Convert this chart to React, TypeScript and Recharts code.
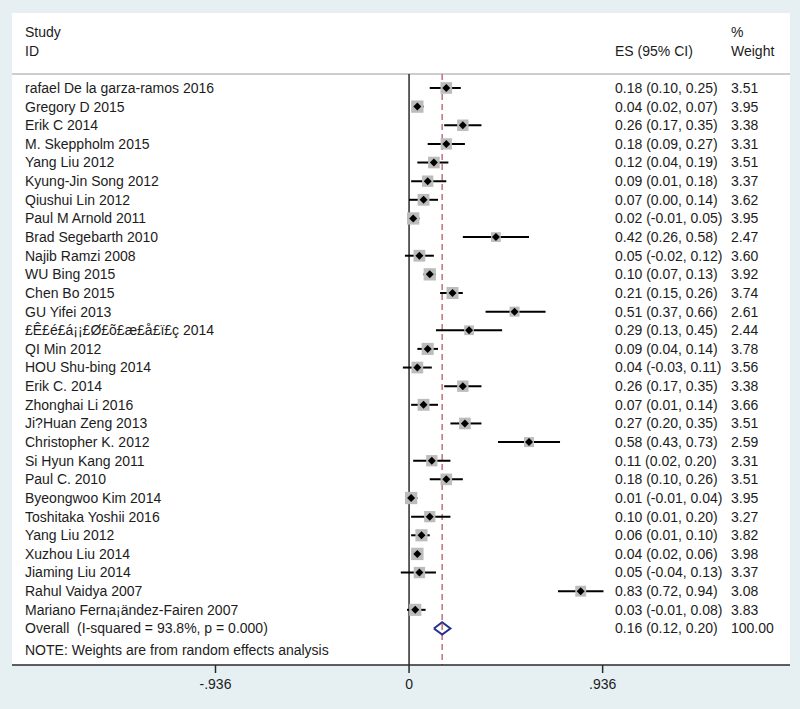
import { ErrorBar, ReferenceLine, Scatter, ScatterChart, XAxis, YAxis } from "recharts";

const studies = [
  "rafael De la garza-ramos 2016",
  "Gregory D 2015",
  "Erik C 2014",
  "M. Skeppholm 2015",
  "Yang Liu 2012",
  "Kyung-Jin Song 2012",
  "Qiushui Lin 2012",
  "Paul M Arnold 2011",
  "Brad Segebarth 2010",
  "Najib Ramzi 2008",
  "WU Bing 2015",
  "Chen Bo 2015",
  "GU Yifei 2013",
  "£Ê£é£á¡¡£Ø£õ£æ£å£ï£ç 2014",
  "QI Min 2012",
  "HOU Shu-bing 2014",
  "Erik C. 2014",
  "Zhonghai Li 2016",
  "Ji?Huan Zeng 2013",
  "Christopher K. 2012",
  "Si Hyun Kang 2011",
  "Paul C. 2010",
  "Byeongwoo Kim 2014",
  "Toshitaka Yoshii 2016",
  "Yang Liu 2012",
  "Xuzhou Liu 2014",
  "Jiaming Liu 2014",
  "Rahul Vaidya 2007",
  "Mariano Ferna¡ändez-Fairen 2007",
];
const effect = [0.18, 0.04, 0.26, 0.18, 0.12, 0.09, 0.07, 0.02, 0.42, 0.05, 0.1, 0.21, 0.51, 0.29, 0.09, 0.04, 0.26, 0.07, 0.27, 0.58, 0.11, 0.18, 0.01, 0.1, 0.06, 0.04, 0.05, 0.83, 0.03];
const lower = [0.1, 0.02, 0.17, 0.09, 0.04, 0.01, 0.0, -0.01, 0.26, -0.02, 0.07, 0.15, 0.37, 0.13, 0.04, -0.03, 0.17, 0.01, 0.2, 0.43, 0.02, 0.1, -0.01, 0.01, 0.01, 0.02, -0.04, 0.72, -0.01];
const upper = [0.25, 0.07, 0.35, 0.27, 0.19, 0.18, 0.14, 0.05, 0.58, 0.12, 0.13, 0.26, 0.66, 0.45, 0.14, 0.11, 0.35, 0.14, 0.35, 0.73, 0.2, 0.26, 0.04, 0.2, 0.1, 0.06, 0.13, 0.94, 0.08];
const weights = [3.51, 3.95, 3.38, 3.31, 3.51, 3.37, 3.62, 3.95, 2.47, 3.6, 3.92, 3.74, 2.61, 2.44, 3.78, 3.56, 3.38, 3.66, 3.51, 2.59, 3.31, 3.51, 3.95, 3.27, 3.82, 3.98, 3.37, 3.08, 3.83];

const overallLabel = "Overall  (I-squared = 93.8%, p = 0.000)";
const overallEffect = 0.16;
const overallLower = 0.12;
const overallUpper = 0.2;
const overallWeight = 100;

const noteText = "NOTE: Weights are from random effects analysis";
const xTicks = [-0.936, 0, 0.936];

const font = "'Liberation Sans', Arial, sans-serif";
const textColor = "#1c1c1c";
const nameX = 25;
const esX = 615;
const weightX = 731;

const overallRow = studies.length;
const noteRow = overallRow + 1.15;
const headerLine = -0.75;
const yDomain = [-4.72, 30.96];

const studyRows = studies.map((name, i) => ({
  row: i,
  name,
  es: effect[i],
  lo: lower[i],
  hi: upper[i],
  weight: weights[i],
  err: [effect[i] - lower[i], upper[i] - effect[i]],
}));

// pooled estimate diamond, drawn as a closed line through the scales
const diamondHalf = 0.33;
const diamond = [
  { es: overallLower, row: overallRow },
  { es: overallEffect, row: overallRow - diamondHalf },
  { es: overallUpper, row: overallRow },
  { es: overallEffect, row: overallRow + diamondHalf },
  { es: overallLower, row: overallRow },
];

const f2 = (v: number) => v.toFixed(2);

function rowTexts(row: number) {
  if (row === -3) return { left: "Study", es: "", w: "%" };
  if (row === -2) return { left: "ID", es: "ES (95% CI)", w: "Weight" };
  if (row === overallRow)
    return { left: overallLabel, es: `${f2(overallEffect)} (${f2(overallLower)}, ${f2(overallUpper)})`, w: f2(overallWeight) };
  if (row === noteRow) return { left: noteText, es: "", w: "" };
  const s = studyRows[row];
  if (!s) return { left: "", es: "", w: "" };
  return { left: s.name, es: `${f2(s.es)} (${f2(s.lo)}, ${f2(s.hi)})`, w: f2(s.weight) };
}

function RowTick(props: any) {
  const { y, payload } = props;
  const t = rowTexts(payload.value);
  const common = {
    y,
    dy: "0.35em",
    fontSize: 14,
    fontFamily: font,
    fill: textColor,
    textAnchor: "start" as const,
    style: { whiteSpace: "pre" as const },
  };
  return (
    <g>
      <text x={nameX} {...common}>{t.left}</text>
      <text x={esX} {...common}>{t.es}</text>
      <text x={weightX} {...common}>{t.w}</text>
    </g>
  );
}

function WeightBox(props: any) {
  const { cx, cy, payload } = props;
  const side = 6.2 * Math.sqrt(payload.weight);
  return <rect x={cx - side / 2} y={cy - side / 2} width={side} height={side} fill="#bcbcbc" />;
}

function PointMark(props: any) {
  const { cx, cy } = props;
  const r = 4;
  return <polygon points={`${cx - r},${cy} ${cx},${cy - r} ${cx + r},${cy} ${cx},${cy + r}`} fill="#000" />;
}

const rowTicks = [-3, -2, ...studyRows.map((s) => s.row), overallRow, noteRow];

export default function App() {
  return (
    <div style={{ position: "absolute", left: 0, top: 0, width: 800, height: 709, background: "#e6f0f3" }}>
      <div style={{ position: "absolute", left: 12, top: 13, width: 778, height: 652, background: "#fff" }} />
      <div style={{ position: "absolute", left: 0, top: 0 }}>
        <ScatterChart width={800} height={709} margin={{ top: 0, right: 10, bottom: 14, left: 11 }}>
          <XAxis
            type="number"
            dataKey="es"
            domain={[-1.92, 1.842]}
            allowDataOverflow
            ticks={xTicks}
            interval={0}
            height={30}
            tickFormatter={(v: number) => (v === 0 ? "0" : String(v).replace("0.", "."))}
            tick={{ fontSize: 14, fontFamily: font, fill: textColor }}
            axisLine={{ stroke: "#2a2a2a", strokeWidth: 1.5 }}
            tickLine={{ stroke: "#2a2a2a", strokeWidth: 1.5 }}
            tickSize={8}
            tickMargin={6}
          />
          <YAxis
            type="number"
            dataKey="row"
            domain={yDomain}
            reversed
            allowDataOverflow
            width={1}
            ticks={rowTicks}
            interval={0}
            axisLine={false}
            tickLine={false}
            tick={(p: any) => <RowTick {...p} />}
          />
          <ReferenceLine y={headerLine} stroke="#bdbdbd" strokeWidth={1.5} />
          <ReferenceLine segment={[{ x: 0, y: headerLine }, { x: 0, y: yDomain[1] }]} stroke="#2a2a2a" strokeWidth={1.5} />
          <ReferenceLine
            segment={[{ x: overallEffect, y: headerLine }, { x: overallEffect, y: yDomain[1] }]}
            stroke="#c0707a"
            strokeWidth={1.5}
            strokeDasharray="6 4"
          />
          <Scatter data={studyRows} shape={<WeightBox />} isAnimationActive={false} />
          <Scatter data={studyRows} shape={<PointMark />} isAnimationActive={false}>
            <ErrorBar dataKey="err" direction="x" width={0} stroke="#000" strokeWidth={2} isAnimationActive={false} />
          </Scatter>
          <Scatter
            data={diamond}
            line={{ stroke: "#26308a", strokeWidth: 2 }}
            lineType="joint"
            shape={() => <g />}
            isAnimationActive={false}
          />
        </ScatterChart>
      </div>
    </div>
  );
}
